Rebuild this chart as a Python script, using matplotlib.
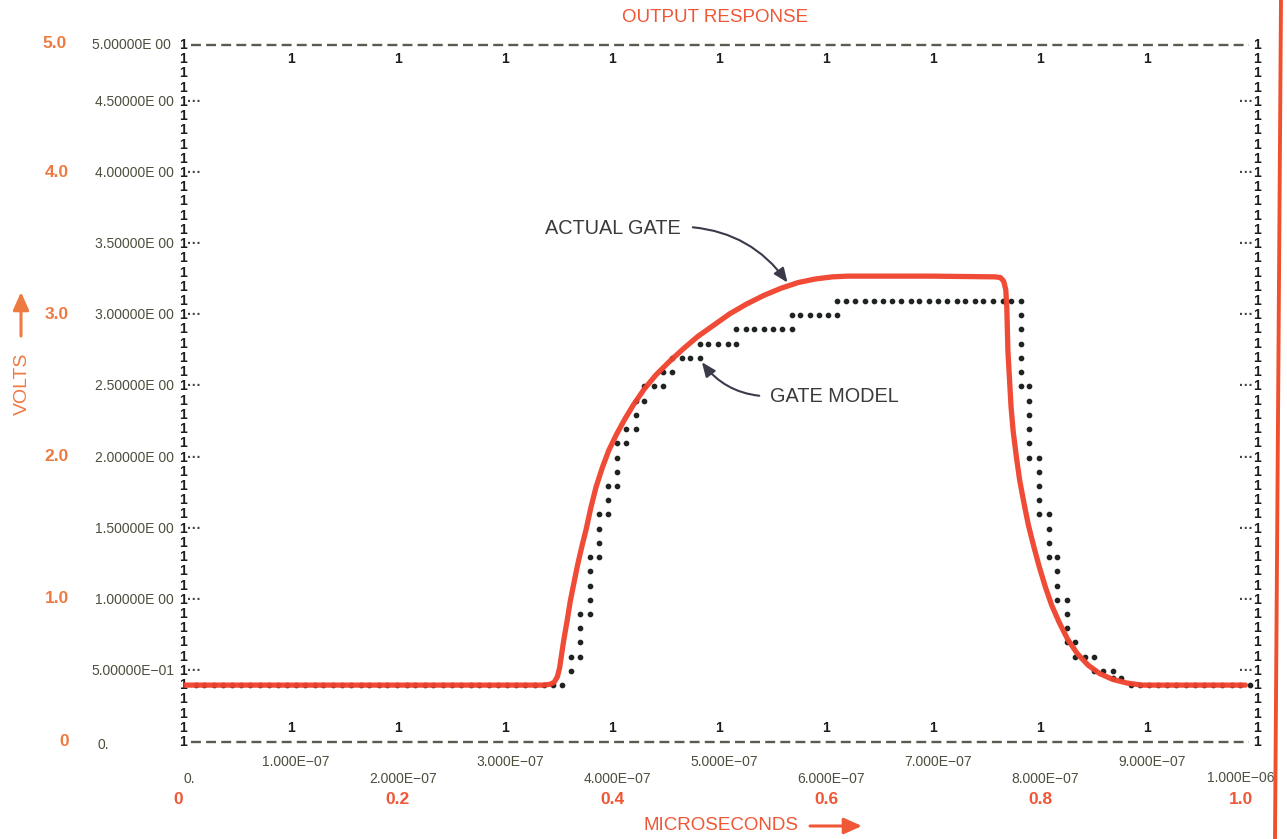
import matplotlib
matplotlib.use("Agg")
import matplotlib.pyplot as plt
import numpy as np
from matplotlib.transforms import blended_transform_factory, offset_copy
from matplotlib.lines import Line2D

plt.rcParams['font.family'] = ['Liberation Sans', 'DejaVu Sans']

# ---------------- data (time in microseconds, voltage in volts) ----------------
actual_t = [0.000, 0.335, 0.342, 0.346, 0.349, 0.351, 0.353, 0.355, 0.358, 0.361,
            0.365, 0.368, 0.372, 0.376, 0.380, 0.385, 0.391, 0.397, 0.404, 0.412,
            0.420, 0.430, 0.441, 0.453, 0.466, 0.480, 0.495, 0.510, 0.526, 0.542,
            0.558, 0.574, 0.590, 0.606, 0.620, 0.700, 0.758, 0.763, 0.766, 0.768,
            0.769, 0.7695, 0.770, 0.7715, 0.773, 0.775, 0.778, 0.781, 0.785, 0.789,
            0.794, 0.799, 0.805, 0.811, 0.818, 0.826, 0.835, 0.845, 0.856, 0.868,
            0.881, 0.895, 0.992]
actual_v = [0.40, 0.40, 0.405, 0.42, 0.46, 0.52, 0.62, 0.72, 0.85, 0.99,
            1.14, 1.25, 1.38, 1.50, 1.64, 1.79, 1.93, 2.05, 2.16, 2.27,
            2.37, 2.48, 2.58, 2.67, 2.76, 2.85, 2.93, 3.01, 3.08, 3.14,
            3.19, 3.23, 3.255, 3.27, 3.275, 3.275, 3.27, 3.265, 3.24, 3.18,
            3.05, 2.90, 2.75, 2.55, 2.35, 2.18, 2.00, 1.84, 1.68, 1.53,
            1.38, 1.24, 1.09, 0.96, 0.84, 0.72, 0.62, 0.54, 0.48, 0.44,
            0.415, 0.40, 0.40]

model_t = ([0.011, 0.019, 0.028, 0.036, 0.045, 0.053, 0.062, 0.071, 0.079, 0.088,
            0.096, 0.105, 0.113, 0.122, 0.130, 0.139, 0.148, 0.156, 0.165, 0.173,
            0.182, 0.190, 0.199, 0.208, 0.216, 0.225, 0.233, 0.242, 0.250, 0.259,
            0.268, 0.276, 0.285, 0.293, 0.302, 0.310, 0.319, 0.328, 0.336, 0.345,
            0.353]
           + [0.362] * 2 + [0.370] * 4 + [0.379] * 5 + [0.388] * 4 + [0.396] * 3
           + [0.405] * 4 + [0.413] * 2 + [0.422] * 3 + [0.430] * 2 + [0.439]
           + [0.448] * 2 + [0.456] * 2 + [0.465, 0.473] + [0.482] * 2
           + [0.490, 0.499, 0.508] + [0.516] * 2
           + [0.525, 0.533, 0.542, 0.550, 0.559] + [0.568] * 2
           + [0.576, 0.585, 0.593, 0.602] + [0.610] * 2
           + [0.619, 0.627, 0.636, 0.645, 0.653, 0.662, 0.670, 0.679, 0.687, 0.696,
              0.705, 0.713, 0.722, 0.730, 0.739, 0.747, 0.756, 0.765, 0.773]
           + [0.782] * 7 + [0.790] * 6 + [0.799] * 5 + [0.808] * 4 + [0.816] * 4
           + [0.825] * 4 + [0.833] * 2 + [0.842] + [0.850] * 2 + [0.859]
           + [0.868] * 2 + [0.876]
           + [0.885, 0.893, 0.902, 0.910, 0.919, 0.927, 0.936, 0.945, 0.953, 0.962,
              0.970, 0.979, 0.987, 0.996])
model_v = ([0.4] * 41
           + [0.5, 0.6] + [0.6, 0.7, 0.8, 0.9] + [0.9, 1.0, 1.1, 1.2, 1.3]
           + [1.3, 1.4, 1.5, 1.6] + [1.6, 1.7, 1.8]
           + [1.8, 1.9, 2.0, 2.1] + [2.1, 2.2] + [2.2, 2.3, 2.4] + [2.4, 2.5] + [2.5]
           + [2.5, 2.6] + [2.6, 2.7] + [2.7, 2.7] + [2.7, 2.8]
           + [2.8, 2.8, 2.8] + [2.8, 2.9]
           + [2.9] * 5 + [2.9, 3.0]
           + [3.0] * 4 + [3.0, 3.1]
           + [3.1] * 19
           + [3.1, 3.0, 2.9, 2.8, 2.7, 2.6, 2.5] + [2.5, 2.4, 2.3, 2.2, 2.1, 2.0]
           + [2.0, 1.9, 1.8, 1.7, 1.6] + [1.6, 1.5, 1.4, 1.3] + [1.3, 1.2, 1.1, 1.0]
           + [1.0, 0.9, 0.8, 0.7] + [0.7, 0.6] + [0.6] + [0.6, 0.5] + [0.5]
           + [0.5, 0.45] + [0.45]
           + [0.4] * 14)

volt_tick_values = [0.5, 1.0, 1.5, 2.0, 2.5, 3.0, 3.5, 4.0, 4.5]
volt_tick_labels = ["5.00000E\u221201", "1.00000E 00", "1.50000E 00", "2.00000E 00",
                    "2.50000E 00", "3.00000E 00", "3.50000E 00", "4.00000E 00",
                    "4.50000E 00"]
volt_top_label = "5.00000E 00"
volt_zero_label = "0."
volt_major_values = [0.0, 1.0, 2.0, 3.0, 4.0]
volt_major_labels = ["0", "1.0", "2.0", "3.0", "4.0"]
volt_major_top = "5.0"

time_tick_values = [0.1, 0.2, 0.3, 0.4, 0.5, 0.6, 0.7, 0.8, 0.9]
time_tick_labels = ["1.000E\u221207", "2.000E\u221207", "3.000E\u221207", "4.000E\u221207",
                    "5.000E\u221207", "6.000E\u221207", "7.000E\u221207", "8.000E\u221207",
                    "9.000E\u221207"]
time_zero_label = "0."
time_end_label = "1.000E\u221206"
time_major_values = [0.0, 0.2, 0.4, 0.6, 0.8, 1.0]
time_major_labels = ["0", "0.2", "0.4", "0.6", "0.8", "1.0"]

# ---------------- styling ----------------
W, H = 1287, 839
INK = "#1c1c1c"
GREY = "#4b4f3d"
DASH = "#5a5c52"
ORANGE_Y = "#ee7a42"
ORANGE_X = "#ef5736"
RED = "#f0432f"
NOTE = "#3a3a3a"

fig = plt.figure(figsize=(W / 100, H / 100), dpi=100)
fig.patch.set_facecolor("white")
ax = fig.add_axes([184 / W, (H - 742) / H, (1254 - 184) / W, (742 - 45) / H])
ax.set_xlim(0, 1.0)
ax.set_ylim(0, 4.9)
ax.axis("off")

y_left = blended_transform_factory(ax.transAxes, ax.transData)
x_bottom = blended_transform_factory(ax.transData, ax.transAxes)


def off(tr, dx=0, dy=0):
    return offset_copy(tr, fig=fig, x=dx, y=dy, units="dots")


printer_rows = np.round(np.arange(0, 4.95, 0.1), 1)
top_row = printer_rows[-1]

# left / right columns of "1"
for r in printer_rows:
    ax.text(0, r, "1", transform=off(y_left, -1, 0), ha="center", va="center",
            fontsize=10, fontweight="bold", color=INK, clip_on=False)
    ax.text(1, r, "1", transform=off(y_left, 3, 0), ha="center", va="center",
            fontsize=10, fontweight="bold", color=INK, clip_on=False)

for v in volt_tick_values:
    ax.text(0, v, "\u00b7\u00b7\u00b7", transform=off(y_left, 3, 0), ha="left",
            va="center", fontsize=10, fontweight="bold", color="#444444")
    ax.text(1, v, "\u00b7\u00b7\u00b7", transform=off(y_left, -1, 0), ha="right",
            va="center", fontsize=10, fontweight="bold", color="#444444")

# dashed top / bottom borders
for r in (printer_rows[0], top_row):
    ax.plot([0.0065, 0.995], [r, r], color=DASH, lw=1.7,
            linestyle=(0, (4.2, 2.2)), solid_capstyle="butt", clip_on=False)

# inner "1" marks along top and bottom
for t in time_tick_values:
    ax.text(t, printer_rows[1], "1", ha="center", va="center", fontsize=10,
            fontweight="bold", color=INK)
    ax.text(t, printer_rows[-2], "1", ha="center", va="center", fontsize=10,
            fontweight="bold", color=INK)

# y labels (printer numbers, grey)
for v, lab in zip(volt_tick_values, volt_tick_labels):
    ax.text(0, v, lab, transform=off(y_left, -10, 0), ha="right", va="center",
            fontsize=10, color=GREY)
ax.text(0, top_row, volt_top_label, transform=off(y_left, -13, 0), ha="right",
        va="center", fontsize=10, color=GREY)
ax.text(0, 0, volt_zero_label, transform=off(y_left, -87, -3), ha="left",
        va="center", fontsize=10, color=GREY)

# y labels (orange)
for v, lab in zip(volt_major_values, volt_major_labels):
    ax.text(0, v, lab, transform=off(y_left, -115, 1), ha="right", va="center",
            fontsize=12.5, fontweight="bold", color=ORANGE_Y)
ax.text(0, top_row, volt_major_top, transform=off(y_left, -117, 2), ha="right",
        va="center", fontsize=12.5, fontweight="bold", color=ORANGE_Y)

# x labels (printer numbers, grey), alternating rows
for i, (t, lab) in enumerate(zip(time_tick_values, time_tick_labels)):
    dy = -20 if i % 2 == 0 else -37
    ax.text(t, 0, lab, transform=off(x_bottom, 5, dy), ha="center", va="center",
            fontsize=10, color=GREY)
ax.text(0, 0, time_zero_label, transform=off(x_bottom, 0, -37), ha="left",
        va="center", fontsize=10, color=GREY)
ax.text(1.0, 0, time_end_label, transform=off(x_bottom, -13, -36), ha="center",
        va="center", fontsize=10, color=GREY)

# x labels (orange)
for t, lab in zip(time_major_values, time_major_labels):
    dx = -6 if t == time_major_values[0] else (-13 if t == time_major_values[-1] else 0)
    ax.text(t, 0, lab, transform=off(x_bottom, dx, -58), ha="center", va="center",
            fontsize=12.5, fontweight="bold", color=ORANGE_X)

# data
ax.plot(model_t, model_v, ls="none", marker="o", ms=3.1, color="#1f2420",
        zorder=2, clip_on=False)
ax.plot(actual_t, actual_v, color=RED, lw=3.8, solid_capstyle="round",
        solid_joinstyle="round", zorder=3, alpha=0.96)

# annotations
ax.annotate("ACTUAL GATE", xy=(0.564, 3.23), xytext=(0.337, 3.61),
            ha="left", va="center", fontsize=14.3, color=NOTE,
            arrowprops=dict(arrowstyle="-|>,head_length=0.6,head_width=0.25",
                            color="#3a3a4a", lw=1.5, relpos=(1.0, 0.6),
                            connectionstyle="arc3,rad=-0.25", shrinkA=7, shrinkB=0))
ax.annotate("GATE MODEL", xy=(0.484, 2.67), xytext=(0.548, 2.43),
            ha="left", va="center", fontsize=14.3, color=NOTE,
            arrowprops=dict(arrowstyle="-|>,head_length=0.6,head_width=0.25",
                            color="#3a3a4a", lw=1.5, relpos=(0.0, 0.5),
                            connectionstyle="arc3,rad=-0.25", shrinkA=6, shrinkB=0))

# titles
fig.text(715 / W, 1 - 18 / H, "OUTPUT RESPONSE", ha="center", va="center",
         fontsize=13.5, color=ORANGE_X)
fig.text(721 / W, 1 - 826 / H, "MICROSECONDS", ha="center", va="center",
         fontsize=13.5, color=ORANGE_X)
fig.text(22 / W, 1 - 384 / H, "VOLTS", ha="center", va="center", rotation=90,
         fontsize=14, color=ORANGE_Y)
ax.annotate("", xy=(862, H - 826), xytext=(810, H - 826), xycoords="figure pixels",
            arrowprops=dict(arrowstyle="-|>,head_length=0.9,head_width=0.4",
                            color=ORANGE_X, lw=2.2, mutation_scale=12,
                            shrinkA=0, shrinkB=0))
ax.annotate("", xy=(21, H - 292), xytext=(21, H - 336), xycoords="figure pixels",
            arrowprops=dict(arrowstyle="-|>,head_length=0.9,head_width=0.4",
                            color=ORANGE_Y, lw=2.2, mutation_scale=12,
                            shrinkA=0, shrinkB=0))

# red page edge
fig.add_artist(Line2D([1281 / W, 1275 / W], [1, 0], transform=fig.transFigure,
                      color="#f0502e", lw=2.8, zorder=10))

fig.savefig("out.png", dpi=100, facecolor="white")
